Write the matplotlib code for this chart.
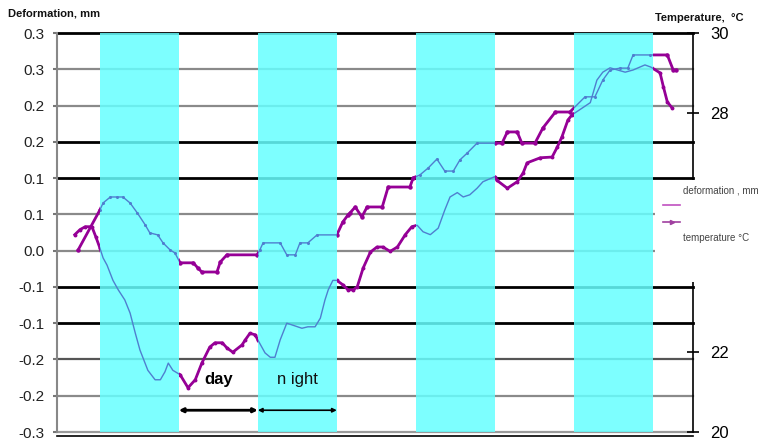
import numpy as np
import matplotlib
matplotlib.use("Agg")
import matplotlib.pyplot as plt
from matplotlib.path import Path
from matplotlib.lines import Line2D
from matplotlib.patches import Rectangle

plt.rcParams['font.family'] = ['Liberation Sans', 'DejaVu Sans']

# time axis in hours, night periods (cyan bands)
night_start = [6.5, 30.5, 54.5, 78.5]
night_end = [18.5, 42.5, 66.5, 90.5]
t_max = 96.6

# deformation, mm (left axis)
def_t = [2.7, 3.5, 4.3, 5.3, 5.9, 6.5, 7.0, 7.6, 8.5, 9.3, 10.3, 11.1, 11.9, 12.6,
         13.8, 14.9, 15.7, 16.4, 16.9, 17.6, 18.7, 19.9, 21.0, 22.0, 23.2, 24.0,
         25.1, 25.8, 26.7, 28.1, 28.6, 29.3, 30.1, 30.5, 31.6, 32.4, 33.1, 33.9,
         34.9, 35.9, 37.2, 38.1, 39.2, 40.0, 40.7, 41.2, 41.9, 42.5, 43.4, 44.2,
         45.0, 45.6, 46.5, 47.6, 48.6, 49.5, 50.6, 51.7, 52.9, 53.9, 54.7, 55.6,
         56.7, 57.9, 58.9, 59.7, 60.8, 61.7, 62.7, 63.8, 64.7, 66.5, 66.8, 68.4,
         69.9, 70.8, 71.4, 73.4, 75.2, 76.0, 76.7, 77.6, 78.2, 81.0, 82.0, 82.9,
         84.0, 86.3, 87.5, 89.3, 90.2, 91.6, 92.1, 92.7, 93.4]
def_mm = [0.022, 0.029, 0.033, 0.033, 0.019, 0.004, -0.010, -0.020, -0.041, -0.054,
          -0.068, -0.086, -0.114, -0.137, -0.165, -0.178, -0.178, -0.167, -0.155,
          -0.165, -0.171, -0.189, -0.178, -0.155, -0.133, -0.127, -0.127, -0.134,
          -0.140, -0.130, -0.123, -0.114, -0.116, -0.123, -0.141, -0.147, -0.147,
          -0.123, -0.100, -0.103, -0.107, -0.105, -0.105, -0.093, -0.068, -0.054,
          -0.041, -0.041, -0.047, -0.054, -0.054, -0.050, -0.024, -0.002, 0.005,
          0.005, -0.001, 0.005, 0.022, 0.033, 0.035, 0.026, 0.022, 0.031, 0.056,
          0.074, 0.080, 0.074, 0.077, 0.086, 0.095, 0.102, 0.097, 0.086, 0.095,
          0.107, 0.121, 0.128, 0.129, 0.143, 0.157, 0.180, 0.187, 0.204, 0.235,
          0.246, 0.252, 0.246, 0.249, 0.256, 0.253, 0.245, 0.226, 0.205, 0.197]

# temperature, °C (right axis)
temp_t = [3.2, 6.5, 7.0, 8.1, 9.1, 10.0, 11.1, 12.2, 13.4, 14.1, 15.3, 16.1, 17.2,
          17.9, 18.7, 20.7, 21.4, 22.0, 24.3, 24.8, 25.8, 30.4, 30.8, 31.3, 33.9,
          34.9, 36.2, 36.9, 38.1, 39.5, 42.5, 43.4, 44.2, 44.5, 45.3, 46.3, 47.1,
          49.4, 50.3, 53.6, 54.1, 55.1, 56.4, 57.7, 58.9, 60.2, 61.2, 62.3, 63.8,
          66.5, 67.6, 68.4, 69.9, 70.6, 72.6, 73.8, 75.7, 77.9, 80.2, 81.7, 82.9,
          84.0, 85.5, 86.7, 87.5, 90.1, 92.7, 93.6, 94.0]
temp_c = [24.56, 25.56, 25.74, 25.89, 25.89, 25.89, 25.74, 25.49, 25.19, 24.99,
          24.94, 24.74, 24.56, 24.49, 24.24, 24.24, 24.11, 24.01, 24.01, 24.26,
          24.44, 24.44, 24.56, 24.74, 24.74, 24.44, 24.44, 24.74, 24.74, 24.94,
          24.94, 25.26, 25.44, 25.49, 25.64, 25.39, 25.64, 25.64, 26.14, 26.14,
          26.37, 26.44, 26.62, 26.84, 26.54, 26.54, 26.82, 26.99, 27.24, 27.24,
          27.24, 27.52, 27.52, 27.24, 27.24, 27.62, 28.02, 28.02, 28.40, 28.40,
          28.82, 29.07, 29.12, 29.12, 29.45, 29.45, 29.45, 29.07, 29.07]

# left axis ticks (rounded to one decimal as in the original)
left_ticks = [0.3, 0.25, 0.2, 0.15, 0.1, 0.05, 0.0, -0.05, -0.1, -0.15, -0.2, -0.25]
left_labels = ['0.3', '0.3', '0.2', '0.2', '0.1', '0.1', '0.0',
               '-0.1', '-0.1', '-0.2', '-0.2', '-0.3']
right_ticks = [20, 22, 28, 30]

grid_colors = ['black', '#8a8a8a', '#8a8a8a', 'black', 'black', '#8a8a8a',
               '#8a8a8a', 'black', 'black', '#555555', '#8a8a8a', '#9a9a9a']

BLUE = '#4f7fcf'
PURPLE = '#960096'

fig = plt.figure(figsize=(7.71, 4.43), dpi=100)
ax = fig.add_axes([57 / 771, 1 - 432 / 443, 636 / 771, 399 / 443])
ax.set_xlim(0, t_max)
ax.set_ylim(-0.25, 0.3)

# horizontal grid lines
for v, c in zip(left_ticks, grid_colors):
    lw = 2.0 if c == 'black' else 1.6
    ax.axhline(v, color=c, lw=lw, zorder=1, clip_on=False)

# night bands
for a, b in zip(night_start, night_end):
    ax.axvspan(a, b, color=(0.4, 1, 1), alpha=0.85, lw=0, zorder=2)

# clip path = day intervals
day_spans = []
prev = 0
for a, b in zip(night_start, night_end):
    day_spans.append((prev, a))
    prev = b
day_spans.append((prev, t_max))
verts, codes = [], []
for a, b in day_spans:
    verts += [(a, -1), (b, -1), (b, 2), (a, 2), (a, -1)]
    codes += [Path.MOVETO, Path.LINETO, Path.LINETO, Path.LINETO, Path.CLOSEPOLY]
day_path = Path(verts, codes)

# deformation curve
ax.plot(def_t, def_mm, color=BLUE, lw=1.0, zorder=3)
ln, = ax.plot(def_t, def_mm, color=PURPLE, lw=2.0, marker='o', ms=1.8, zorder=3)
ln.set_clip_path(day_path, ax.get_xaxis_transform())

ax.set_xticks([])
ax.set_yticks(left_ticks)
ax.set_yticklabels(left_labels)
ax.tick_params(axis='y', direction='out', length=3, color='#777777', width=1.5,
               labelsize=11, labelcolor='#222222', pad=6)
ax.spines['top'].set_visible(False)
ax.spines['right'].set_visible(False)
ax.spines['left'].set_color('#888888')
ax.spines['left'].set_linewidth(1.5)
ax.spines['bottom'].set_position(('outward', 3))
ax.spines['bottom'].set_linewidth(1.2)

# day / night arrows
y_arr = -0.22
ax.annotate('', xy=(night_start[1], y_arr), xytext=(night_end[0], y_arr),
            arrowprops=dict(arrowstyle='<|-|>', lw=2, color='black', mutation_scale=6,
                            shrinkA=0, shrinkB=0), zorder=4)
ax.annotate('', xy=(night_end[1], y_arr), xytext=(night_start[1], y_arr),
            arrowprops=dict(arrowstyle='<|-|>', lw=1.2, color='black', mutation_scale=6,
                            shrinkA=0, shrinkB=0), zorder=4)
ax.text((night_end[0] + night_start[1]) / 2, -0.178, 'day', fontsize=12,
        fontweight='bold', ha='center', va='center', zorder=4)
ax.text((night_start[1] + night_end[1]) / 2, -0.178, 'n ight', fontsize=12,
        ha='center', va='center', zorder=4, color='#111111')

# temperature curve on right axis
ax2 = ax.twinx()
ax2.set_ylim(20, 30)
ax2.plot(temp_t, temp_c, color=BLUE, lw=1.0, marker='o', ms=1.2)
ln2, = ax2.plot(temp_t, temp_c, color=PURPLE, lw=2.0, marker='o', ms=2.2)
ln2.set_clip_path(day_path, ax2.get_xaxis_transform())
ax2.set_yticks(right_ticks)
ax2.tick_params(axis='y', direction='inout', length=9, width=1.2, color='black',
                labelsize=12, pad=8)
for s in ['left', 'top', 'bottom']:
    ax2.spines[s].set_visible(False)
ax2.spines['right'].set_linewidth(1.2)

# axis titles
fig.text(8 / 771, 1 - 14 / 443, 'Deformation, mm', fontsize=8, fontweight='bold',
         va='center', color='#111111')
fig.text(655 / 771, 1 - 18 / 443, 'Temperature,  °C', fontsize=8, fontweight='bold',
         va='center', color='#111111')

# legend box covering the right axis part
fig.patches.append(Rectangle((655 / 771, 1 - 282 / 443), 116 / 771, 102 / 443,
                             transform=fig.transFigure, facecolor='white',
                             edgecolor='none', zorder=10))
fig.text(683 / 771, 1 - 190 / 443, 'deformation , mm', fontsize=7, color='#444444',
         va='center', zorder=11)
fig.text(683 / 771, 1 - 238 / 443, 'temperature °C', fontsize=7, color='#444444',
         va='center', zorder=11)
fig.lines.append(Line2D([663 / 771, 680 / 771], [1 - 205 / 443] * 2, color='#c050c0',
                        lw=1.2, transform=fig.transFigure, zorder=11))
fig.lines.append(Line2D([663 / 771, 680 / 771], [1 - 222 / 443] * 2, color='#a040a0',
                        lw=1.2, transform=fig.transFigure, zorder=11))
fig.lines.append(Line2D([672 / 771], [1 - 222 / 443], color='#a040a0', marker='>',
                        ms=3, transform=fig.transFigure, zorder=11))

fig.savefig('out.png', dpi=100)
